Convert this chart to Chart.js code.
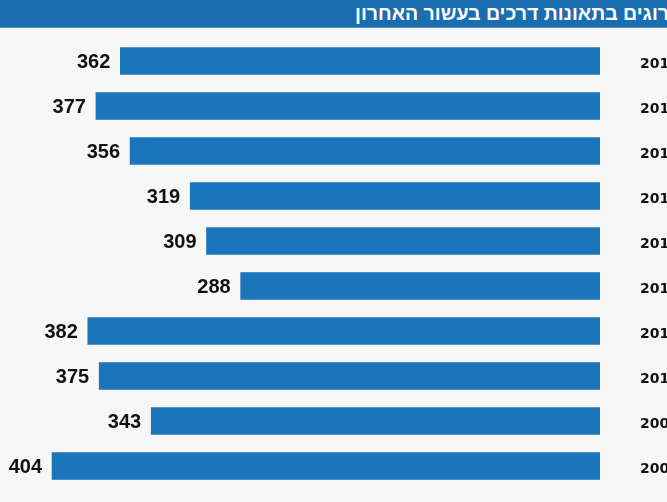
<!DOCTYPE html>
<html lang="he">
<head>
<meta charset="utf-8">
<script src="https://cdn.jsdelivr.net/npm/chart.js@4/dist/chart.umd.min.js"></script>
<style>
  html, body { margin: 0; padding: 0; width: 667px; height: 502px; overflow: hidden; background: #f7f7f7; }
  #title-bar { position: absolute; left: 0; top: 0; width: 667px; height: 27px; background: #1a6db1; border-bottom: 1px solid #4f92c9; overflow: hidden; }
  #title-bar span { position: absolute; left: 355px; top: 2px; color: #fff; font: bold 19.5px "Liberation Sans", Arial, sans-serif; direction: rtl; white-space: nowrap; }
  #chart { position: absolute; left: 0; top: 28px; }
</style>
</head>
<body>
<div id="title-bar"><span>ההרוגים בתאונות דרכים בעשור האחרון</span></div>
<canvas id="chart" width="720" height="474"></canvas>
<script>
(function () {
  "use strict";
  var YEARS = ["2017", "2016", "2015", "2014", "2013", "2012", "2011", "2010", "2009", "2008"];
  var KILLED = [362, 377, 356, 319, 309, 288, 382, 375, 343, 404];
  var X_MIN = 67, X_MAX = 436;

  var BAR = "#1b75bb";
  var INK = "#111110";

  // מספרים משמאל לכל עמודה
  var valueLabels = {
    id: "valueLabels",
    afterDatasetsDraw: function (chart) {
      var ctx = chart.ctx;
      var meta = chart.getDatasetMeta(0);
      ctx.save();
      ctx.font = "bold 20px 'Liberation Sans', Arial, sans-serif";
      ctx.fillStyle = INK;
      ctx.textAlign = "right";
      ctx.textBaseline = "middle";
      meta.data.forEach(function (el, i) {
        ctx.fillText(String(KILLED[i]), el.x - 10, el.y + 1);
      });
      ctx.restore();
    }
  };

  new Chart(document.getElementById("chart"), {
    type: "bar",
    data: {
      labels: YEARS,
      datasets: [{ data: KILLED, backgroundColor: BAR, barThickness: 27 }]
    },
    options: {
      indexAxis: "y", responsive: false, animation: false,
      layout: { padding: { top: 10.5, bottom: 13.5, left: 0, right: 0 } },
      plugins: { legend: { display: false }, tooltip: { enabled: false } },
      scales: {
        x: { display: false, reverse: true, min: X_MIN, max: X_MAX },
        y: {
          position: "right",
          grid: { display: false, drawTicks: false },
          border: { display: false },
          ticks: { padding: 40, labelOffset: 3, color: INK, font: { family: "'DejaVu Sans', sans-serif", size: 14, weight: "bold" } },
          afterFit: function (a) { a.width = 120; a.paddingTop = 0; a.paddingBottom = 0; }
        }
      }
    },
    plugins: [valueLabels]
  });
})();
</script>
</body>
</html>
